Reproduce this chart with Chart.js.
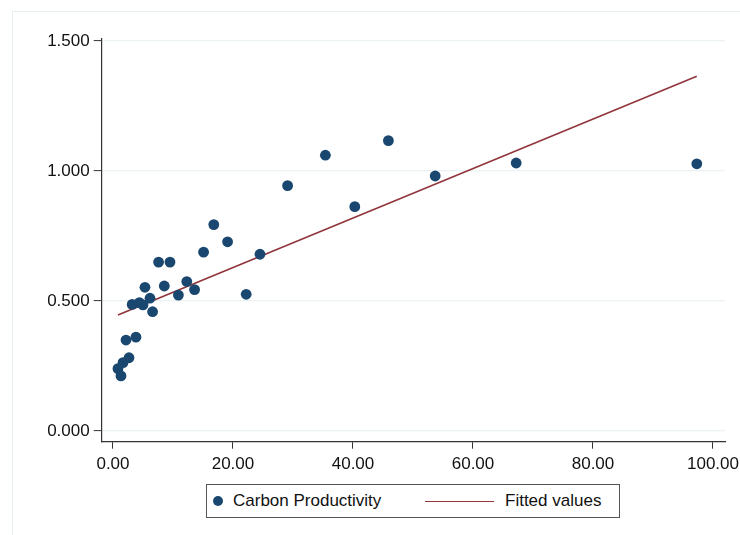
<!DOCTYPE html>
<html>
<head>
<meta charset="utf-8">
<script src="https://cdn.jsdelivr.net/npm/chart.js@4/dist/chart.umd.min.js"></script>
<style>
  html, body { margin: 0; padding: 0; background: #fff; overflow: hidden; }
  #wrap { position: relative; width: 740px; height: 535px; }
  #frame { position: absolute; left: 12px; top: 11px; width: 800px; height: 600px; border: 1px solid #e6eeee; box-sizing: border-box; }
  canvas { position: absolute; left: 0; top: 0; }
  #legend { position: absolute; left: 206px; top: 484px; width: 414px; height: 34px; box-sizing: border-box;
            border: 1px solid #555; background: #fff; font-family: "Liberation Sans", Arial, sans-serif; font-size: 17px; color: #111; }
  #legend .dot { position: absolute; left: 6px; top: 11px; width: 10px; height: 10px; border-radius: 50%; background: #1a476f; }
  #legend .t1 { position: absolute; left: 26px; top: 6px; white-space: nowrap; }
  #legend .ln { position: absolute; left: 218px; top: 16px; width: 69px; height: 0; border-top: 1.5px solid #90353b; }
  #legend .t2 { position: absolute; left: 298px; top: 6px; white-space: nowrap; }
</style>
</head>
<body>
<div id="wrap">
  <div id="frame"></div>
  <canvas id="c" width="740" height="535"></canvas>
  <div id="legend">
    <div class="dot"></div><div class="t1">Carbon Productivity</div>
    <div class="ln"></div><div class="t2">Fitted values</div>
  </div>
</div>
<script>
// Data
const xValues = [0.83, 1.33, 1.67, 2.67, 2.17, 3.83, 3.2, 4.4, 5.0, 5.33, 6.17, 6.6, 7.6, 8.55, 9.5, 10.9, 12.3, 13.6, 15.1, 16.8, 19.1, 22.2, 24.5, 29.1, 35.4, 40.3, 45.9, 53.7, 67.2, 97.3];
const yValues = [0.240, 0.212, 0.263, 0.282, 0.350, 0.361, 0.487, 0.494, 0.485, 0.553, 0.511, 0.459, 0.650, 0.558, 0.650, 0.523, 0.575, 0.544, 0.688, 0.794, 0.728, 0.526, 0.680, 0.944, 1.061, 0.863, 1.117, 0.981, 1.031, 1.028];
const fittedX = [0.83, 97.3];
const fittedY = [0.446, 1.365];
const xTicks = [0, 20, 40, 60, 80, 100];
const yTicks = [0, 0.5, 1.0, 1.5];

const scatterPts = xValues.map((x, i) => ({ x: x, y: yValues[i] }));
const fittedPts = fittedX.map((x, i) => ({ x: x, y: fittedY[i] }));
const FONT = { family: '"Liberation Sans", Arial, sans-serif', size: 17 };

new Chart(document.getElementById('c'), {
  type: 'scatter',
  data: {
    datasets: [
      { label: 'Fitted values', data: fittedPts, type: 'line', showLine: true,
        borderColor: '#90353b', borderWidth: 1.6, pointRadius: 0, fill: false, order: 2 },
      { label: 'Carbon Productivity', data: scatterPts, backgroundColor: '#1a476f',
        borderWidth: 0, pointRadius: 5.4, pointHoverRadius: 5.4, order: 1 }
    ]
  },
  options: {
    responsive: false,
    animation: false,
    events: [],
    layout: { padding: { left: 0, top: 39, right: 15, bottom: 53.3 } },
    plugins: { legend: { display: false }, tooltip: { enabled: false } },
    scales: {
      x: {
        type: 'linear', min: -1.88, max: 102,
        afterBuildTicks: s => { s.ticks = xTicks.map(v => ({ value: v })); },
        afterFit: s => { s.height = 40; s.paddingLeft = 0; s.paddingRight = 0; },
        ticks: { font: FONT, color: '#111', padding: 5, maxRotation: 0,
                 callback: v => Number(v).toFixed(2) },
        grid: { drawOnChartArea: false, drawTicks: true, tickLength: 7, tickColor: '#333', tickWidth: 1 },
        border: { display: true, color: '#333', width: 1.2 }
      },
      y: {
        type: 'linear', min: -0.041, max: 1.508,
        afterBuildTicks: s => { s.ticks = yTicks.map(v => ({ value: v })); },
        afterFit: s => { s.width = 101.7; s.paddingTop = 0; s.paddingBottom = 0; },
        ticks: { font: FONT, color: '#111', padding: 4,
                 callback: v => Number(v).toFixed(3) },
        grid: { drawOnChartArea: true, color: '#eaf2f3', lineWidth: 1.2, drawTicks: true,
                tickLength: 8, tickColor: '#333', tickWidth: 1 },
        border: { display: true, color: '#333', width: 1.2 }
      }
    }
  }
});
</script>
</body>
</html>
